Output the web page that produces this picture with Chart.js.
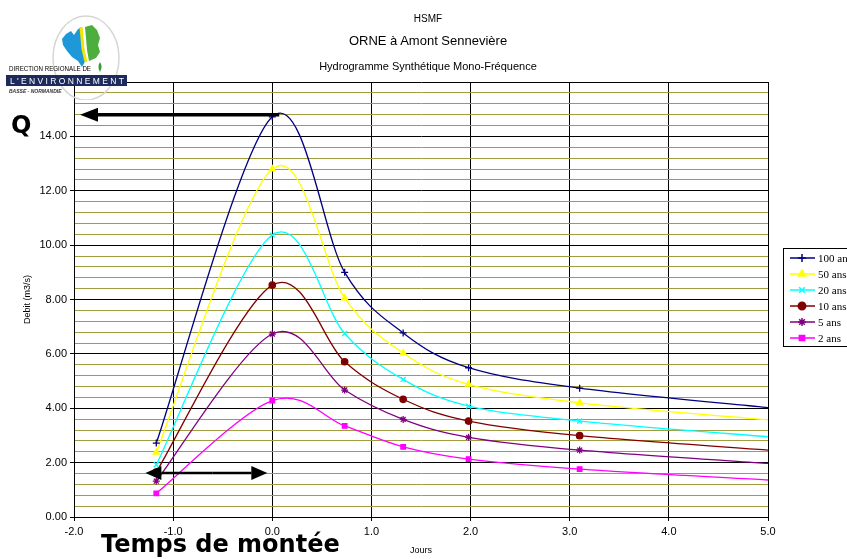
<!DOCTYPE html>
<html lang="fr">
<head>
<meta charset="utf-8">
<title>HSMF - ORNE à Amont Sennevière</title>
<script src="https://cdn.jsdelivr.net/npm/chart.js"></script>
<style>
  body { margin: 0; background: #fff; }
  #wrap { position: relative; width: 847px; height: 559px; overflow: hidden; }
  #logo { position: absolute; left: 0; top: 0; }
  .titre { position: absolute; left: 0; width: 856px; text-align: center; font-family: "Liberation Sans", Arial, sans-serif; color: #000; }
</style>
</head>
<body>
<div id="wrap">
  <canvas id="hydroChart" width="847" height="559"></canvas>

  <!-- logo DIREN -->
  <svg id="logo" width="135" height="100">
    <ellipse cx="86" cy="58" rx="33" ry="42" fill="none" stroke="#d6d6d6" stroke-width="1.5"/>
    <path d="M66 34 L71 31 L74 35 L78 29 L82 27 L83 38 L84 48 L86 60 L82 67 L78 61 L72 57 L67 51 L63 45 L62 39 Z" fill="#1e98d8"/>
    <path d="M81 27 L82 38 L83 49 L86 62" fill="none" stroke="#f2e600" stroke-width="3"/>
    <path d="M85 27 L92 25 L97 30 L100 38 L98 45 L100 52 L96 58 L89 61 L87 50 L86 38 Z" fill="#4cae3c"/>
    <path d="M100 62 Q103 66 100 72 Q97 67 100 62 Z" fill="#3a9a32"/>
    <text x="9" y="71" font-family="Liberation Sans, Arial" font-size="6.5" textLength="82" lengthAdjust="spacingAndGlyphs">DIRECTION REGIONALE DE</text>
    <rect x="6" y="75" width="121" height="11" fill="#1c2a5c"/>
    <text x="10" y="84" font-family="Liberation Sans, Arial" font-size="8.5" fill="#fff" textLength="114" lengthAdjust="spacing">L'ENVIRONNEMENT</text>
    <text x="9" y="93" font-family="Liberation Sans, Arial" font-size="5" font-style="italic" font-weight="bold" fill="#333">BASSE - NORMANDIE</text>
  </svg>

  <div class="titre" style="top:13px;font-size:10px;">HSMF</div>
  <div class="titre" style="top:33px;font-size:13px;">ORNE à Amont Sennevière</div>
  <div class="titre" style="top:60px;font-size:11px;">Hydrogramme Synthétique Mono-Fréquence</div>
</div>

<script>
// abscisses (jours) des points calculés
const jours = [-1.17, 0, 0.73, 1.32, 1.98, 3.1, 5.0];

// débits (m3/s) par période de retour
const q100 = [2.72, 14.72, 9.0, 6.77, 5.49, 4.74, 4.02];
const q50 = [2.38, 12.8, 8.05, 6.03, 4.88, 4.2, 3.57];
const q20 = [1.92, 10.37, 6.75, 5.06, 4.08, 3.53, 2.95];
const q10 = [1.65, 8.53, 5.71, 4.33, 3.53, 2.99, 2.46];
const q5 = [1.32, 6.73, 4.67, 3.59, 2.93, 2.46, 1.97];
const q2 = [0.87, 4.28, 3.35, 2.58, 2.13, 1.76, 1.36];

const seriesLabels = ['100 ans', '50 ans', '20 ans', '10 ans', '5 ans', '2 ans'];
const seriesValues = [q100, q50, q20, q10, q5, q2];
const seriesColors = ['#000080', '#ffff00', '#00ffff', '#800000', '#800080', '#ff00ff'];
const seriesMarkers = ['cross', 'triangle', 'crossRot', 'circle', 'star', 'rect'];
const seriesRadius = [3.5, 3.5, 3.5, 3.2, 3.5, 3.2];

const xTicks = { min: -2, max: 5, step: 1 };
const yTicks = { min: 0, max: 16, step: 0.4, major: 2 };

const gridOlive = '#a09c40';

function isMajor(v) {
  const r = v / yTicks.major;
  return Math.abs(r - Math.round(r)) < 1e-6;
}

// flèche pleine
function drawArrow(ctx, fromX, fromY, toX, toY, headLen, headHalf, width) {
  const ang = Math.atan2(toY - fromY, toX - fromX);
  const bx = toX - Math.cos(ang) * headLen;
  const by = toY - Math.sin(ang) * headLen;
  ctx.save();
  ctx.strokeStyle = '#000';
  ctx.fillStyle = '#000';
  ctx.lineWidth = width;
  ctx.beginPath();
  ctx.moveTo(fromX, fromY);
  ctx.lineTo(bx, by);
  ctx.stroke();
  ctx.beginPath();
  ctx.moveTo(toX, toY);
  ctx.lineTo(bx - Math.sin(ang) * headHalf, by + Math.cos(ang) * headHalf);
  ctx.lineTo(bx + Math.sin(ang) * headHalf, by - Math.cos(ang) * headHalf);
  ctx.closePath();
  ctx.fill();
  ctx.restore();
}

// lissage type Excel (Catmull-Rom, 1/6) au lieu de la tension Chart.js
const excelSmooth = {
  id: 'excelSmooth',
  beforeDatasetDraw(chart, args) {
    const meta = args.meta;
    const line = meta.dataset;
    const pts = meta.data;
    if (!line || pts.length < 2) return;
    line.updateControlPoints(chart.chartArea, 'x');
    const n = pts.length;
    for (let i = 0; i < n; i++) {
      const prev = pts[Math.max(i - 1, 0)];
      const next = pts[Math.min(i + 1, n - 1)];
      const dx = (next.x - prev.x) / 6;
      const dy = (next.y - prev.y) / 6;
      pts[i].cp1x = pts[i].x - dx;
      pts[i].cp1y = pts[i].y - dy;
      pts[i].cp2x = pts[i].x + dx;
      pts[i].cp2y = pts[i].y + dy;
    }
    line._path = undefined;
  }
};

// légende + annotations (Q, temps de montée)
const overlayPlugin = {
  id: 'overlay',
  afterDraw(chart) {
    const { ctx, chartArea } = chart;
    const xs = chart.scales.x;
    const ys = chart.scales.y;

    // légende
    ctx.save();
    ctx.strokeStyle = '#000';
    ctx.lineWidth = 1;
    ctx.strokeRect(783.5, 248.5, 80, 98);
    ctx.font = '11px "Liberation Serif", "Times New Roman", serif';
    ctx.textBaseline = 'middle';
    chart.data.datasets.forEach((ds, i) => {
      const ly = 258 + i * 16;
      ctx.strokeStyle = ds.borderColor;
      ctx.lineWidth = 1.5;
      ctx.beginPath();
      ctx.moveTo(790, ly);
      ctx.lineTo(815, ly);
      ctx.stroke();
      ctx.fillStyle = ds.borderColor;
      ctx.strokeStyle = ds.borderColor;
      if (Chart.helpers && Chart.helpers.drawPoint) {
        Chart.helpers.drawPoint(ctx, { pointStyle: ds.pointStyle, radius: ds.pointRadius[0] + 0.5, borderWidth: 1.5, rotation: 0 }, 802, ly);
      }
      ctx.fillStyle = '#000';
      ctx.fillText(ds.label, 818, ly + 1);
    });
    ctx.restore();

    // Q : débit de pointe
    const peak = Math.max(...q100);
    const yPeak = ys.getPixelForValue(peak) - 2;
    drawArrow(ctx, xs.getPixelForValue(0.07), yPeak, chartArea.left + 6, yPeak, 18, 7, 3.5);

    // temps de montée
    const yMont = ys.getPixelForValue(1.62);
    drawArrow(ctx, xs.getPixelForValue(-0.6), yMont, xs.getPixelForValue(-1.28), yMont, 16, 7, 2.5);
    drawArrow(ctx, xs.getPixelForValue(-0.6), yMont, xs.getPixelForValue(-0.05), yMont, 16, 7, 2.5);

    ctx.save();
    ctx.fillStyle = '#000';
    ctx.font = 'bold 24px "DejaVu Sans", Verdana, sans-serif';
    ctx.textBaseline = 'alphabetic';
    ctx.fillText('Q', 11, 133);
    ctx.fillText('Temps de montée', 101, 552);
    ctx.restore();
  }
};

const datasets = seriesValues.map((vals, i) => ({
  label: seriesLabels[i],
  data: jours.map((j, k) => ({ x: j, y: vals[k] })),
  borderColor: seriesColors[i],
  backgroundColor: seriesColors[i],
  borderWidth: 1.3,
  pointStyle: seriesMarkers[i],
  pointRadius: jours.map((j, k) => (k === jours.length - 1 ? 0 : seriesRadius[i])),
  pointBorderWidth: 1.3,
  tension: 0.4,
  fill: false
}));

const ctx = document.getElementById('hydroChart').getContext('2d');
window.hydroChart = new Chart(ctx, {
  type: 'line',
  data: { datasets: datasets },
  options: {
    responsive: false,
    animation: false,
    layout: { padding: { left: 0, right: 79, top: 82, bottom: 0 } },
    plugins: {
      legend: { display: false },
      tooltip: { enabled: false },
      title: { display: false }
    },
    scales: {
      x: {
        type: 'linear',
        min: xTicks.min,
        max: xTicks.max,
        afterFit: function(scale) { scale.height = 42; },
        ticks: {
          stepSize: xTicks.step,
          padding: 4,
          color: '#000',
          font: { family: '"Liberation Sans", Arial, sans-serif', size: 11 },
          callback: function(v) { return Number(v).toFixed(1); }
        },
        grid: { color: '#000', lineWidth: 1, tickLength: 4, tickColor: '#000' },
        border: { color: '#000', width: 1 },
        title: {
          display: true,
          text: 'Jours',
          color: '#000',
          font: { family: '"Liberation Sans", Arial, sans-serif', size: 9 },
          padding: { top: 0, bottom: 3 }
        }
      },
      y: {
        min: yTicks.min,
        max: yTicks.max,
        afterFit: function(scale) { scale.width = 74; },
        ticks: {
          stepSize: yTicks.step,
          autoSkip: false,
          padding: 3,
          color: '#000',
          font: { family: '"Liberation Sans", Arial, sans-serif', size: 11 },
          callback: function(v) { return isMajor(v) ? Number(v).toFixed(2) : ''; }
        },
        grid: {
          color: function(c) { return c.tick && isMajor(c.tick.value) ? '#000' : gridOlive; },
          tickColor: function(c) { return c.tick && isMajor(c.tick.value) ? '#000' : 'rgba(0,0,0,0)'; },
          lineWidth: 1,
          tickLength: 4
        },
        border: { color: '#000', width: 1 },
        title: {
          display: true,
          text: 'Debit (m3/s)',
          color: '#000',
          font: { family: '"Liberation Sans", Arial, sans-serif', size: 9 },
          padding: { top: 22, bottom: 0 }
        }
      }
    }
  },
  plugins: [excelSmooth, overlayPlugin]
});
</script>
</body>
</html>
